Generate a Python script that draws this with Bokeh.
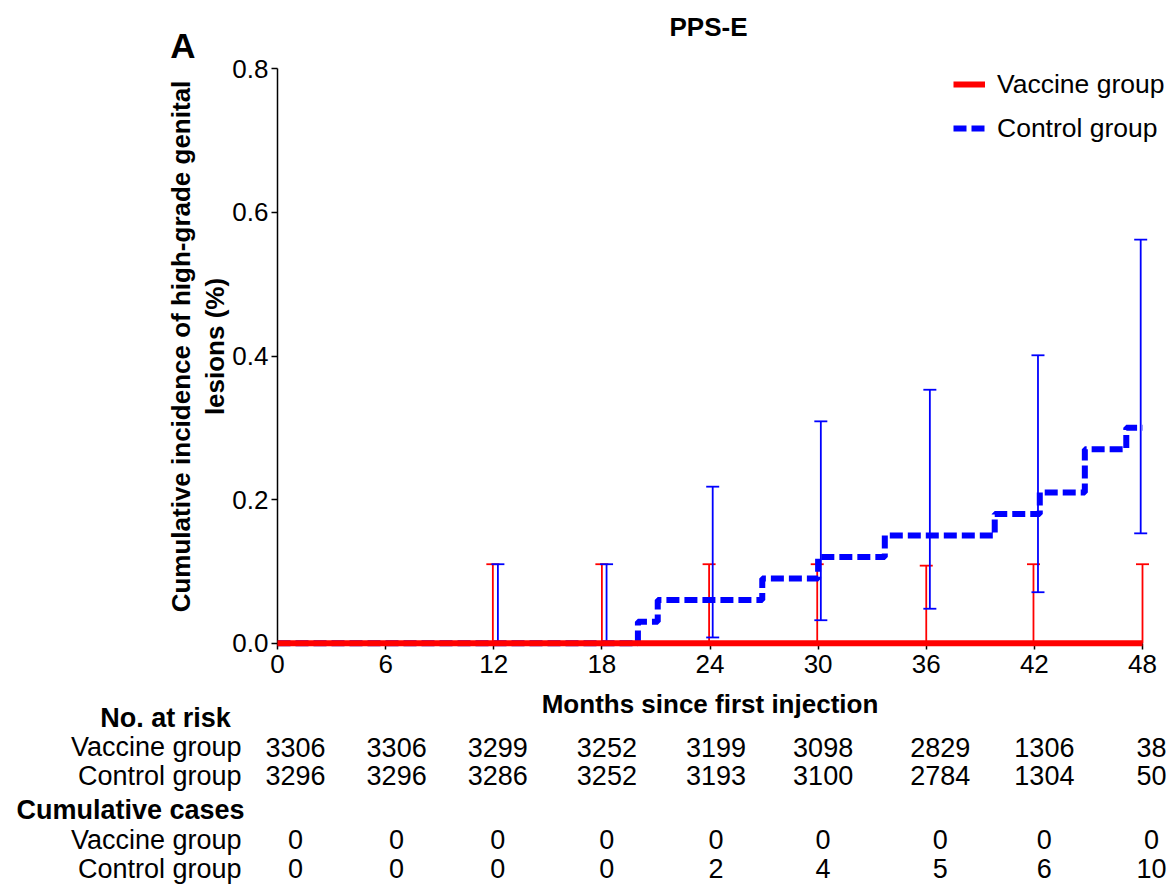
import math
from bokeh.plotting import figure
from bokeh.models import (Range1d, FixedTicker, PrintfTickFormatter, Label,
                          Legend, LegendItem)
from bokeh.embed import file_html
from bokeh.resources import INLINE

# ---------------- data ----------------
tick_months = [0, 6, 12, 18, 24, 30, 36, 42, 48]
y_ticks = [0.0, 0.2, 0.4, 0.6, 0.8]

vaccine_at_risk = [3306, 3306, 3299, 3252, 3199, 3098, 2829, 1306, 38]
control_at_risk = [3296, 3296, 3286, 3252, 3193, 3100, 2784, 1304, 50]
vaccine_cum_cases = [0, 0, 0, 0, 0, 0, 0, 0, 0]
control_cum_cases = [0, 0, 0, 0, 2, 4, 5, 6, 10]

vaccine_curve_months = [0, 48]
vaccine_curve_inc = [0.0, 0.0]

control_curve_months = [0, 20.0, 21.1, 26.9, 30.0, 33.7, 39.8, 42.3, 44.8, 47.1, 48]
control_curve_inc = [0.0, 0.03, 0.06, 0.09, 0.12, 0.15, 0.18, 0.21, 0.27, 0.30, 0.30]

vaccine_ci_months = [11.95, 18.0, 23.95, 29.95, 36.0, 41.95, 48.0]
vaccine_ci_lower = [0.0, 0.0, 0.0, 0.0, 0.0, 0.0, 0.0]
vaccine_ci_upper = [0.11, 0.11, 0.11, 0.11, 0.108, 0.11, 0.11]

control_ci_months = [12.23, 18.26, 24.15, 30.15, 36.2, 42.2, 47.9]
control_ci_lower = [0.0, 0.0, 0.008, 0.032, 0.048, 0.071, 0.153]
control_ci_upper = [0.11, 0.11, 0.218, 0.309, 0.353, 0.401, 0.562]

# ---------------- layout geometry (canvas pixels) ----------------
FONT = "Liberation Sans"
RED = "#ff0000"
BLUE = "#0000ff"
CANVAS_W, CANVAS_H = 1172, 884
X0_PX, X48_PX = 277.0, 1142.0      # x of month 0 and month 48
Y0_PX, YTOP_PX = 642.7, 68.3       # y of 0.0 and 0.8
PPM = (X48_PX - X0_PX) / 48.0
PPV = (Y0_PX - YTOP_PX) / 0.8


def xd(px):
    return (px - X0_PX) / PPM


def yd(py):
    return (Y0_PX - py) / PPV


# the frame covers the whole canvas; axes sit at fixed data locations
p = figure(output_backend="svg", toolbar_location=None,
           width=CANVAS_W, height=CANVAS_H,
           x_range=Range1d(xd(0), xd(CANVAS_W)),
           y_range=Range1d(yd(CANVAS_H), yd(0)),
           min_border_left=0, min_border_right=0,
           min_border_top=0, min_border_bottom=0)
p.outline_line_color = None
p.grid.visible = False
p.background_fill_color = "white"
p.border_fill_color = "white"

for ax in (p.xaxis[0], p.yaxis[0]):
    ax.fixed_location = 0
    ax.axis_line_color = "black"
    ax.axis_line_width = 1.5
    ax.major_tick_line_color = "black"
    ax.major_tick_line_width = 1.5
    ax.major_tick_in = 0
    ax.major_tick_out = 6
    ax.minor_tick_line_color = None
    ax.major_label_text_font = FONT
    ax.major_label_text_font_size = "26px"
    ax.major_label_text_color = "black"
    ax.major_label_standoff = 3

p.xaxis[0].bounds = (0, 48)
p.xaxis[0].ticker = FixedTicker(ticks=tick_months)
p.xaxis[0].major_label_standoff = 6
p.xaxis[0].axis_label = "Months since first injection"
p.xaxis[0].axis_label_text_font = FONT
p.xaxis[0].axis_label_text_font_style = "bold"
p.xaxis[0].axis_label_text_font_size = "26px"
p.xaxis[0].axis_label_text_color = "black"
p.xaxis[0].axis_label_standoff = 12

p.yaxis[0].bounds = (0, 0.8)
p.yaxis[0].ticker = FixedTicker(ticks=y_ticks)
p.yaxis[0].formatter = PrintfTickFormatter(format="%.1f")

# error bars (vaccine, red)
p.segment(x0=vaccine_ci_months, y0=vaccine_ci_lower, x1=vaccine_ci_months,
          y1=vaccine_ci_upper, line_color=RED, line_width=1.8)
p.scatter(vaccine_ci_months, vaccine_ci_upper, marker="dash", size=13,
          line_color=RED, line_width=1.8)
# error bars (control, blue)
p.segment(x0=control_ci_months, y0=control_ci_lower, x1=control_ci_months,
          y1=control_ci_upper, line_color=BLUE, line_width=1.8)
p.scatter(control_ci_months, control_ci_upper, marker="dash", size=13,
          line_color=BLUE, line_width=1.8)
p.scatter(control_ci_months, control_ci_lower, marker="dash", size=13,
          line_color=BLUE, line_width=1.8)

# curves
blue_line = p.step(control_curve_months, control_curve_inc, mode="after",
                   line_color=BLUE, line_width=6, line_dash="13 5")
red_line = p.line(vaccine_curve_months, vaccine_curve_inc, line_color=RED,
                  line_width=6, level="overlay")

# legend (location = bottom-left of the legend box, from canvas bottom-left)
leg_glyph_x = 953
leg_top = 65
item_h = 38
spacing = 6
leg_h = 2 * item_h + spacing
legend = Legend(items=[LegendItem(label="Vaccine group", renderers=[red_line]),
                       LegendItem(label="Control group", renderers=[blue_line])],
                location=(leg_glyph_x, CANVAS_H - (leg_top + leg_h)),
                glyph_width=32, glyph_height=item_h, label_height=item_h,
                spacing=spacing, padding=0, margin=0, label_standoff=12,
                label_text_font=FONT, label_text_font_size="26.5px",
                label_text_color="black", label_text_baseline="middle",
                border_line_color=None, background_fill_alpha=0)
p.add_layout(legend, "center")


def add_label(text, px, py, size="26px", bold=False, align="center",
              baseline="middle", angle=0.0, x=None, x_offset=0):
    lab = Label(x=xd(px) if x is None else x, y=yd(py), text=text,
                x_offset=x_offset,
                text_font=FONT, text_font_size=size,
                text_font_style="bold" if bold else "normal",
                text_color="black", text_align=align,
                text_baseline=baseline, angle=angle)
    p.add_layout(lab)


# title and panel letter (positions are centres of the capitals)
add_label("PPS-E", 708, 26.5, size="26px", bold=True)
add_label("A", 182.5, 44.5, size="35px", bold=True)

# y-axis label (two lines, rotated)
add_label("Cumulative incidence of high-grade genital", 180.5, 346, size="26px",
          bold=True, angle=math.pi / 2)
add_label("lesions (%)", 214.5, 346, size="26px", bold=True,
          angle=math.pi / 2)

# risk table
TABLE_FS = "27px"
row_y = [717, 746.5, 775, 809, 839, 868]
col_dx = [18, 11, 4, 5, 6, 5, 14, 10, 9]
add_label("No. at risk", 165, row_y[0], size=TABLE_FS, bold=True)
add_label("Cumulative cases", 130, row_y[3], size=TABLE_FS, bold=True)
for ry, name in ((row_y[1], "Vaccine group"), (row_y[2], "Control group"),
                 (row_y[4], "Vaccine group"), (row_y[5], "Control group")):
    add_label(name, 241, ry, size=TABLE_FS, align="right")

for ry, vals in ((row_y[1], vaccine_at_risk), (row_y[2], control_at_risk),
                 (row_y[4], vaccine_cum_cases), (row_y[5], control_cum_cases)):
    for m, v, dx in zip(tick_months, vals, col_dx):
        add_label(str(v), 0, ry, size=TABLE_FS, x=m, x_offset=dx)

open("out.html", "w").write(file_html(p, INLINE))
